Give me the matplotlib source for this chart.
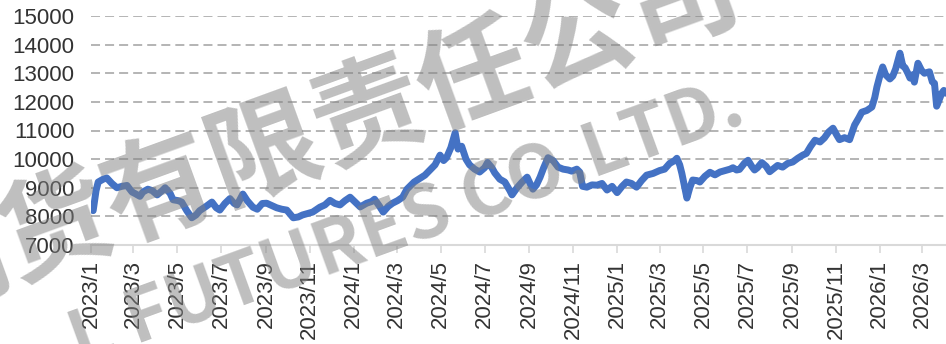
import pandas as pd
import matplotlib.pyplot as plt

# days since 2023-01-01 and price
days = [3, 7, 10, 17, 22, 29, 36, 43, 50, 57, 61, 68, 72, 79, 85, 92, 99, 103, 110, 114,
        121, 126, 133, 140, 146, 151, 160, 168, 174, 179, 186, 193, 199, 203, 211, 217, 225, 231, 238, 244,
        251, 258, 265, 272, 281, 288, 294, 301, 308, 318, 325, 332, 339, 346, 353, 360, 367, 374, 383, 390,
        394, 401, 406, 413, 419, 426, 433, 439, 443, 449, 457, 464, 471, 478, 485, 490, 494, 500, 506, 510,
        515, 521, 526, 533, 540, 547, 551, 557, 561, 568, 575, 582, 585, 592, 599, 606, 610, 614, 619, 624,
        629, 635, 642, 649, 656, 663, 668, 675, 679, 683, 689, 696, 703, 710, 717, 724, 731, 738, 744, 751,
        758, 765, 772, 781, 790, 797, 804, 811, 814, 818, 821, 825, 828, 832, 836, 842, 846, 853, 860, 867,
        874, 881, 888, 892, 897, 901, 908, 913, 918, 922, 926, 932, 938, 943, 949, 954, 961, 968, 975, 982,
        989, 994, 1000, 1006, 1013, 1019, 1025, 1031, 1036, 1040, 1047, 1054, 1061, 1067, 1071, 1078, 1085, 1089, 1092, 1096,
        1100, 1104, 1110, 1114, 1118, 1124, 1128, 1131, 1135, 1138, 1142, 1144, 1149, 1154, 1158, 1165, 1169, 1172, 1175, 1179,
        1182, 1185, 1188]
price = [8200, 8900, 9200, 9300, 9340, 9150, 9000, 9050, 9080, 8850, 8800, 8700, 8850, 8950, 8900, 8750, 8900, 9000, 8800, 8580,
         8550, 8500, 8200, 7950, 8050, 8200, 8350, 8500, 8300, 8220, 8450, 8620, 8450, 8400, 8780, 8550, 8320, 8250, 8450, 8460,
         8380, 8300, 8250, 8220, 7950, 7980, 8050, 8100, 8150, 8320, 8400, 8560, 8450, 8400, 8550, 8670, 8500, 8330, 8460, 8520,
         8600, 8350, 8150, 8350, 8460, 8550, 8670, 8950, 9050, 9200, 9330, 9440, 9620, 9800, 10140, 9950, 10050, 10400, 10920, 10350,
         10450, 10000, 9800, 9650, 9550, 9700, 9880, 9700, 9520, 9300, 9200, 8900, 8750, 9000, 9200, 9370, 9150, 8950, 9100, 9370,
         9700, 10050, 9950, 9720, 9650, 9620, 9580, 9650, 9550, 9050, 9020, 9100, 9090, 9150, 8920, 9050, 8830, 9050, 9200, 9150,
         9020, 9250, 9440, 9500, 9600, 9650, 9850, 9950, 10030, 9800, 9500, 9000, 8640, 9000, 9270, 9250, 9200, 9400, 9540, 9450,
         9550, 9600, 9650, 9700, 9620, 9640, 9860, 9960, 9750, 9620, 9700, 9880, 9750, 9560, 9680, 9780, 9720, 9850, 9900, 10030,
         10140, 10200, 10450, 10660, 10600, 10740, 10950, 11080, 10850, 10680, 10750, 10680, 11190, 11450, 11640, 11700, 11820, 12150, 12520, 12900,
         13220, 12950, 12800, 12900, 13150, 13700, 13250, 13200, 13000, 12830, 12950, 12690, 13350, 13100, 13000, 13050, 12700, 12650, 11850, 12100,
         12300, 12400, 12300]

start = pd.Timestamp('2023-01-01')
dates = start + pd.to_timedelta(days, unit='D')
tick_dates = pd.date_range('2023-01-01', '2026-03-01', freq='2MS')
tick_labels = [f"{d.year}/{d.month}" for d in tick_dates]

plt.rcParams['font.family'] = ['Liberation Sans', 'DejaVu Sans']

fig = plt.figure(figsize=(9.46, 3.44), dpi=100)
ax = fig.add_axes([91 / 946, 1 - 245 / 344, 1 - 91 / 946, (245 - 16) / 344])

ax.plot(dates, price, color='#4472C4', lw=5, solid_joinstyle='round', solid_capstyle='round', zorder=3)

ax.set_ylim(7000, 15000)
ax.set_yticks(range(7000, 15001, 1000))
ax.set_xlim(start, start + pd.Timedelta(days=1188))
ax.set_xticks(tick_dates)
ax.set_xticklabels(tick_labels, rotation=90, va='top', ha='center')

# dashed grid, the bottom one is the axis line
for v in range(8000, 15001, 1000):
    ax.axhline(v, color='#A0A0A0', lw=1.1, ls=(0, (5.9, 3.3)), zorder=1)

for s in ['left', 'right', 'top']:
    ax.spines[s].set_visible(False)
ax.spines['bottom'].set_color('#D9D9D9')
ax.spines['bottom'].set_linewidth(1.5)

ax.tick_params(axis='y', length=0, pad=12, labelsize=16, labelcolor='#333333')
ax.tick_params(axis='x', length=6, width=1.2, color='#D9D9D9', pad=5, labelsize=16, labelcolor='#333333')

# watermark
fig.text(318 / 946, 1 - 135 / 344, '期货有限责任公司', rotation=20, rotation_mode='anchor',
         ha='center', va='center', fontsize=80, weight='bold', color='#808080', alpha=0.5,
         family=['Noto Sans CJK SC', 'DejaVu Sans'])
fig.text(748 / 946, 1 - 122 / 344, 'L FUTURES CO.LTD.', rotation=20, rotation_mode='anchor',
         ha='right', va='baseline', fontsize=53, weight='bold', color='#808080', alpha=0.5,
         family=['Noto Sans CJK SC', 'DejaVu Sans'])

fig.savefig('out.png', dpi=100)
